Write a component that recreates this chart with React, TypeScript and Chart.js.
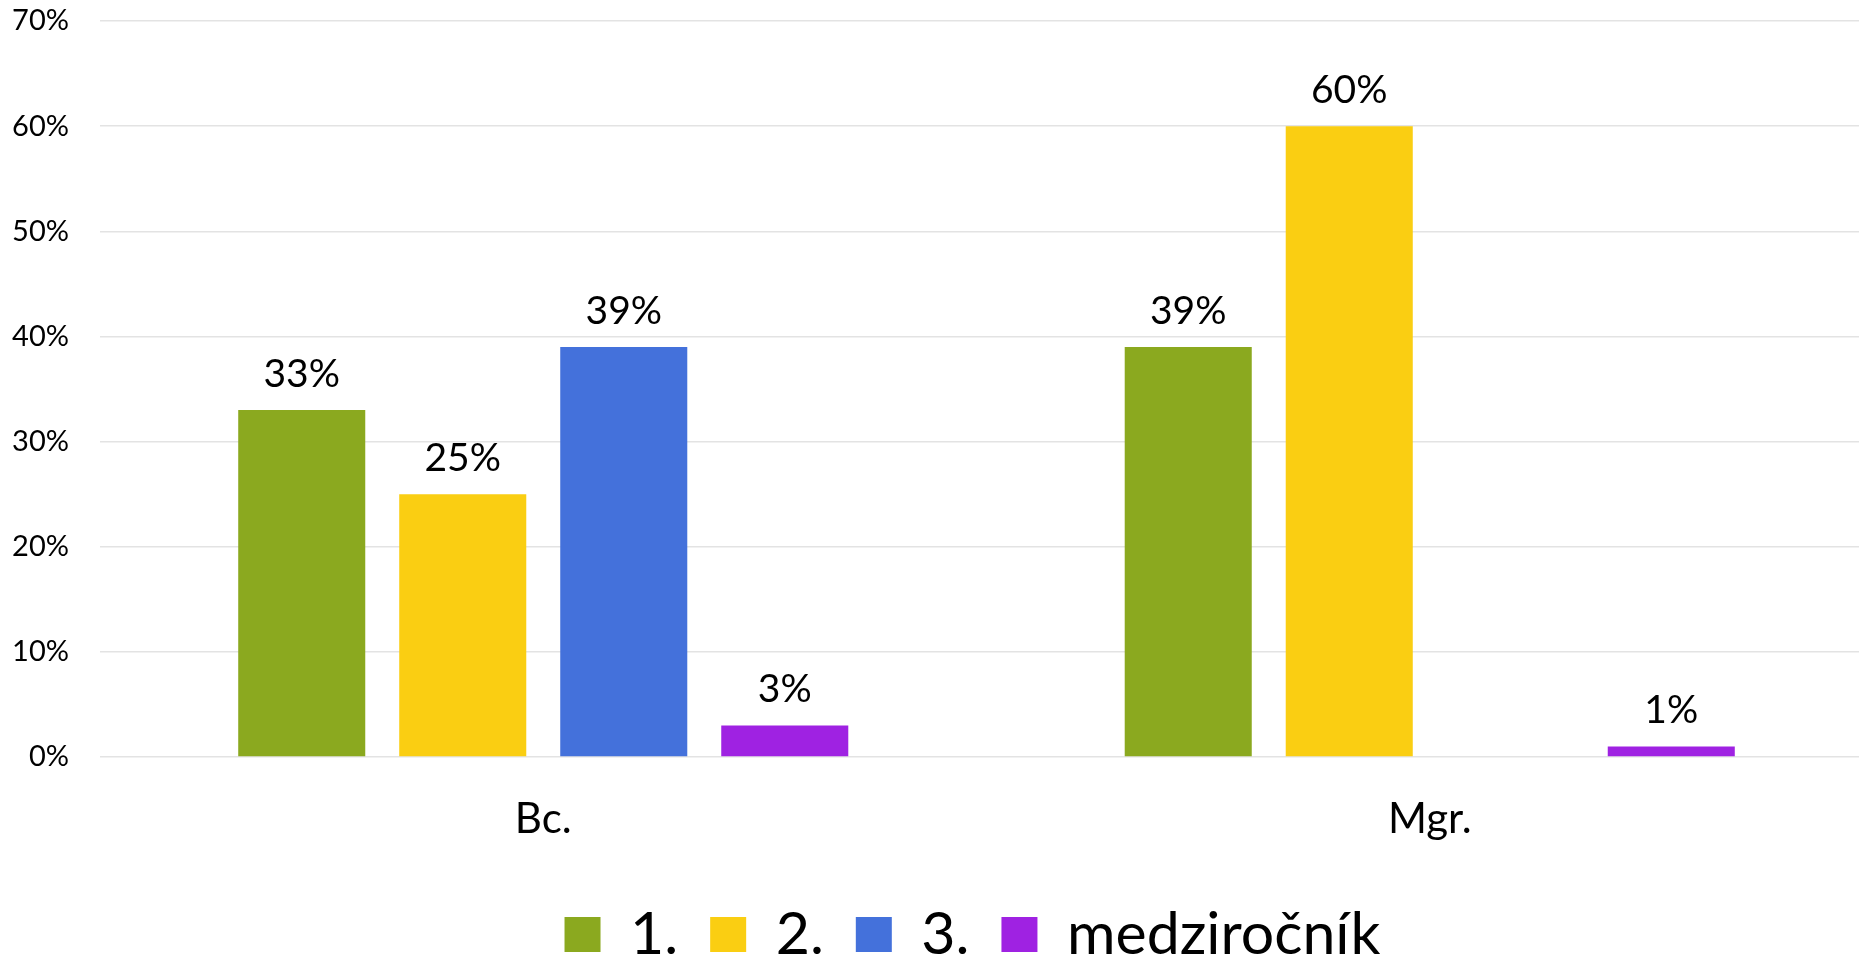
import React, { useEffect, useRef } from "react";
import { Chart, registerables } from "chart.js";

Chart.register(...registerables);

const categories = ["Bc.", "Mgr."];
const seriesNames = ["1.", "2.", "3.", "medziročník"];
const series1 = [33, 39];
const series2 = [25, 60];
const series3: (number | null)[] = [39, null];
const series4 = [3, 1];
const yMin = 0;
const yMax = 70;
const yStep = 10;

const colors = ["#8BA91F", "#FACE12", "#4471DB", "#9F22E2"];
const FONT = "Lato, 'Open Sans', sans-serif";

const valueLabels = {
  id: "valueLabels",
  afterDatasetsDraw(chart: any) {
    const ctx = chart.ctx;
    ctx.save();
    ctx.font = `39px ${FONT}`;
    ctx.fillStyle = "#000";
    ctx.textAlign = "center";
    ctx.textBaseline = "alphabetic";
    chart.data.datasets.forEach((ds: any, i: number) => {
      const meta = chart.getDatasetMeta(i);
      meta.data.forEach((el: any, j: number) => {
        const v = ds.data[j];
        if (v == null) return;
        ctx.fillText(`${v}%`, el.x, el.y - 23);
      });
    });
    ctx.restore();
  },
};

const legendShift = {
  id: "legendShift",
  afterLayout(chart: any) {
    const l = chart.legend;
    if (l) {
      l.left += 36;
      l.right += 36;
    }
  },
};

export default function App() {
  const ref = useRef<HTMLCanvasElement | null>(null);
  useEffect(() => {
    if (!ref.current) return;
    const allSeries = [series1, series2, series3, series4];
    const chart = new Chart(ref.current, {
      type: "bar",
      data: {
        labels: categories,
        datasets: allSeries.map((d, i) => ({
          label: seriesNames[i],
          data: d,
          backgroundColor: colors[i],
          borderWidth: 0,
          categoryPercentage: 0.7265,
          barPercentage: 0.789,
        })),
      },
      options: {
        responsive: false,
        animation: false,
        layout: { padding: { top: 21, right: 0, left: 0, bottom: 0 } },
        plugins: {
          tooltip: { enabled: false },
          legend: {
            position: "bottom",
            labels: {
              font: { family: FONT, size: 59 },
              color: "#000",
              boxWidth: 36,
              boxHeight: 35,
              padding: 32,
            },
          },
        },
        scales: {
          x: {
            grid: { display: false, drawTicks: false },
            border: { display: false },
            ticks: {
              font: { family: FONT, size: 42 },
              color: "#000",
              padding: 37,
            },
            afterFit: (s: any) => {
              s.height = 116;
            },
          },
          y: {
            min: yMin,
            max: yMax,
            grid: { color: "#e3e3e3", lineWidth: 1.5, drawTicks: false },
            border: { display: false },
            ticks: {
              stepSize: yStep,
              font: { family: FONT, size: 29 },
              color: "#000",
              padding: 31,
              callback: (v: any) => `${v}%`,
            },
            afterFit: (s: any) => {
              s.width = 100;
              s.paddingTop = 0;
              s.paddingBottom = 0;
            },
          },
        },
      },
      plugins: [valueLabels, legendShift],
    });
    return () => chart.destroy();
  }, []);

  return (
    <div
      style={{
        position: "fixed",
        left: 0,
        top: 0,
        width: 1859,
        height: 960,
        overflow: "hidden",
        background: "#fff",
      }}
    >
      <canvas ref={ref} width={1873} height={974} style={{ display: "block" }} />
    </div>
  );
}
